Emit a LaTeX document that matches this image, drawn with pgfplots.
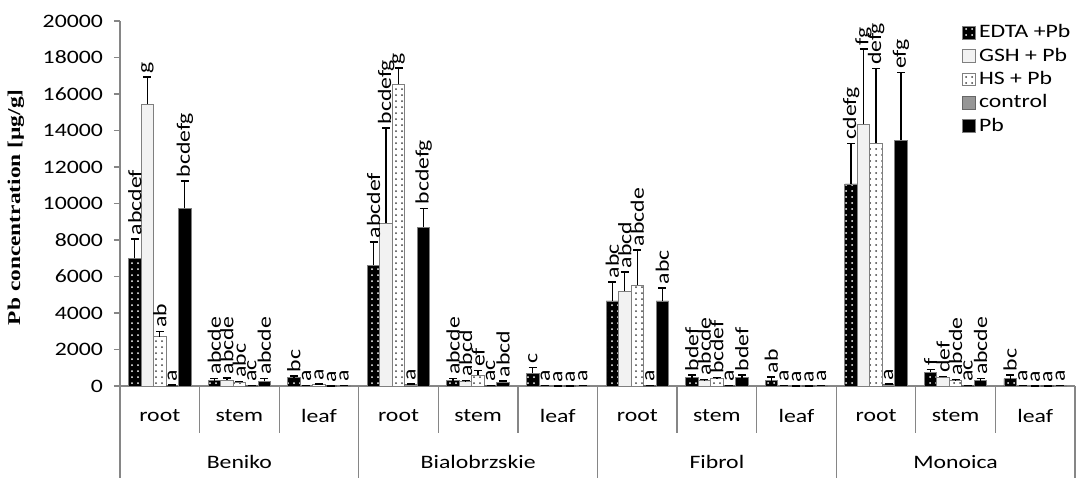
\documentclass[border=0pt]{standalone}
\usepackage{fontspec}
\setmainfont{Carlito}[FakeStretch=1.25]
\newfontfamily\ylabfont{Liberation Serif}[FakeStretch=1.3]
\usepackage{pgfplots}
\pgfplotsset{compat=1.18}
\usepackage{pgfplotstable}
\usetikzlibrary{patterns}
\definecolor{axgray}{HTML}{868686}
\definecolor{edgegray}{HTML}{7F7F7F}
\definecolor{lightfill}{HTML}{F2F2F2}
\definecolor{ctrl}{HTML}{969696}

\pgfplotstableread{
x y e lab
0 7000 1050 abcdef
1 300 100 abcde
2 450 100 bc
3 6630 1260 abcdef
4 300 100 abcde
5 700 300 c
6 4660 1050 abc
7 450 150 bdef
8 300 200 ab
9 11070 2230 cdefg
10 750 150 f
11 400 200 bc
}\tEDTA

\pgfplotstableread{
x y e lab
0 15450 1480 g
1 330 100 abcde
2 30 0 a
3 8930 5200 bcdefg
4 250 50 abcd
5 20 0 a
6 5200 1040 abcd
7 300 50 abcde
8 20 0 a
9 14340 4130 fg
10 480 50 def
11 20 0 a
}\tGSH

\pgfplotstableread{
x y e lab
0 2700 300 ab
1 200 50 abc
2 100 0 a
3 16530 900 g
4 600 250 ef
5 10 0 a
6 5530 1920 abcde
7 400 50 bcdef
8 10 0 a
9 13300 4100 defg
10 300 50 abcde
11 10 0 a
}\tHS

\pgfplotstableread{
x y e lab
0 50 0 a
1 30 0 ac
2 10 0 a
3 100 0 a
4 20 0 ac
5 10 0 a
6 30 0 a
7 20 0 a
8 10 0 a
9 100 0 a
10 20 0 ac
11 10 0 a
}\tCtrl

\pgfplotstableread{
x y e lab
0 9750 1480 bcdefg
1 250 150 abcde
2 30 0 a
3 8700 1040 bcdefg
4 200 80 abcd
5 20 0 a
6 4660 710 abc
7 450 150 bdef
8 20 0 a
9 13470 3700 efg
10 300 100 abcde
11 20 0 a
}\tPb

\begin{document}
\begin{tikzpicture}
\path[use as bounding box] (-60pt,-46.5pt) rectangle (478.5pt,193pt);
\begin{axis}[
  at={(0,0)}, anchor=south west,
  scale only axis, width=477.5pt, height=182.5pt,
  xmin=-0.5, xmax=11.5, ymin=0, ymax=20000,
  axis lines*=left,
  axis line style={axgray, line width=0.6pt},
  xtick=\empty,
  ytick={0,2000,...,20000},
  scaled y ticks=false,
  tick align=outside, major tick length=3pt,
  ytick pos=left,
  ytick style={axgray, line width=0.6pt},
  yticklabel style={font=\fontsize{9.5}{11}\selectfont, xshift=-2pt},
  /pgf/number format/1000 sep={},
  /pgf/number format/assume math mode=true,
  ybar=0pt, bar width=6.25pt,
  clip=false,
  ylabel={\ylabfont\bfseries Pb concentration [µg/g]},
  every axis y label/.style={at={(axis description cs:-0.109,0.49)}, rotate=90, anchor=center, font=\fontsize{9}{11}\selectfont},
  legend style={at={(rel axis cs:0.8817,1.0)}, anchor=north west, draw=none, fill=none,
     font=\fontsize{9.5}{11}\selectfont, row sep=0.4pt, inner sep=0pt,
     nodes={inner sep=1.6pt}},
  legend cell align=left,
  error bars/y dir=plus, error bars/y explicit,
  error bars/error bar style={black, line width=0.7pt},
  error bars/error mark options={rotate=90, black, mark size=2pt, line width=0.7pt},
  point meta=explicit symbolic,
  nodes near coords,
  visualization depends on={\thisrow{e}*0.009125+1.2 \as \eshift},
  every node near coord/.append style={yshift=\eshift pt, rotate=90, anchor=west,
     font=\fontsize{9.5}{11}\selectfont, inner sep=0.5pt, black},
  lg/.style={legend image code/.code={\draw[##1] (0pt,-3.2pt) rectangle (6.3pt,3.2pt);}},
]
\addplot[draw=edgegray, fill=black, postaction={pattern=dots, pattern color=white}, lg]
  table[x=x, y=y, y error=e, meta=lab] {\tEDTA};
\addlegendentry{EDTA +Pb}
\addplot[draw=edgegray, fill=lightfill, lg]
  table[x=x, y=y, y error=e, meta=lab] {\tGSH};
\addlegendentry{GSH + Pb}
\addplot[draw=edgegray, fill=white, postaction={pattern=dots, pattern color=black!75}, lg]
  table[x=x, y=y, y error=e, meta=lab] {\tHS};
\addlegendentry{HS + Pb}
\addplot[draw=edgegray!80!black, fill=ctrl, lg]
  table[x=x, y=y, y error=e, meta=lab] {\tCtrl};
\addlegendentry{control}
\addplot[draw=edgegray, fill=black, lg]
  table[x=x, y=y, y error=e, meta=lab] {\tPb};
\addlegendentry{Pb}

% category separators
\draw[axgray, line width=0.6pt] (axis cs:-0.5,0) -- ++(0pt,-46pt);
\draw[axgray, line width=0.6pt] (axis cs:2.5,0) -- ++(0pt,-46pt);
\draw[axgray, line width=0.6pt] (axis cs:5.5,0) -- ++(0pt,-46pt);
\draw[axgray, line width=0.6pt] (axis cs:8.5,0) -- ++(0pt,-46pt);
\draw[axgray, line width=0.6pt] (axis cs:11.5,0) -- ++(0pt,-46pt);
\draw[axgray, line width=0.6pt] (axis cs:0.5,0) -- ++(0pt,-23.5pt);
\draw[axgray, line width=0.6pt] (axis cs:1.5,0) -- ++(0pt,-23.5pt);
\draw[axgray, line width=0.6pt] (axis cs:3.5,0) -- ++(0pt,-23.5pt);
\draw[axgray, line width=0.6pt] (axis cs:4.5,0) -- ++(0pt,-23.5pt);
\draw[axgray, line width=0.6pt] (axis cs:6.5,0) -- ++(0pt,-23.5pt);
\draw[axgray, line width=0.6pt] (axis cs:7.5,0) -- ++(0pt,-23.5pt);
\draw[axgray, line width=0.6pt] (axis cs:9.5,0) -- ++(0pt,-23.5pt);
\draw[axgray, line width=0.6pt] (axis cs:10.5,0) -- ++(0pt,-23.5pt);

% category labels
\begin{scope}[every node/.style={font=\fontsize{9.5}{11}\selectfont, inner sep=0pt}]
\node[yshift=-15pt] at (axis cs:0,0) {root};
\node[yshift=-15pt] at (axis cs:1,0) {stem};
\node[yshift=-15pt] at (axis cs:2,0) {leaf};
\node[yshift=-15pt] at (axis cs:3,0) {root};
\node[yshift=-15pt] at (axis cs:4,0) {stem};
\node[yshift=-15pt] at (axis cs:5,0) {leaf};
\node[yshift=-15pt] at (axis cs:6,0) {root};
\node[yshift=-15pt] at (axis cs:7,0) {stem};
\node[yshift=-15pt] at (axis cs:8,0) {leaf};
\node[yshift=-15pt] at (axis cs:9,0) {root};
\node[yshift=-15pt] at (axis cs:10,0) {stem};
\node[yshift=-15pt] at (axis cs:11,0) {leaf};
\node[yshift=-38pt] at (axis cs:1,0) {Beniko};
\node[yshift=-38pt] at (axis cs:4,0) {Bialobrzskie};
\node[yshift=-38pt] at (axis cs:7,0) {Fibrol};
\node[yshift=-38pt] at (axis cs:10,0) {Monoica};
\end{scope}
\end{axis}
\end{tikzpicture}
\end{document}
